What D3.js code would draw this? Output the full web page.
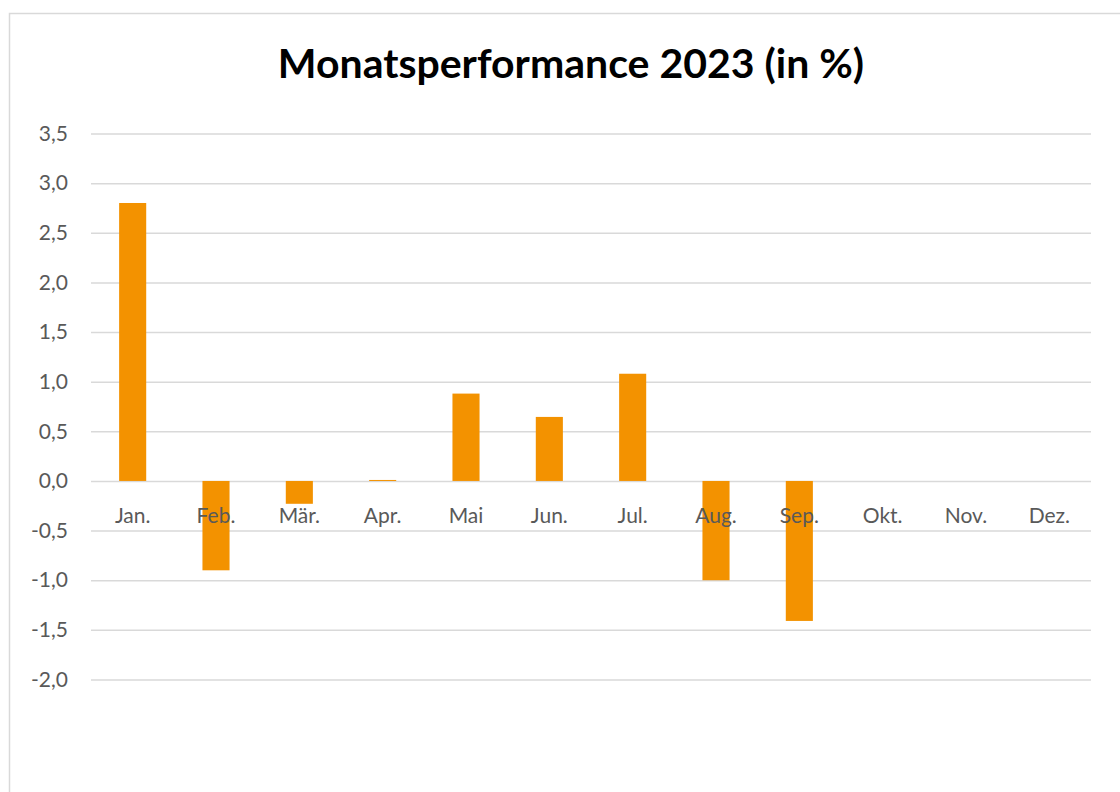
<!DOCTYPE html>
<html lang="de">
<head>
    <meta charset="UTF-8">
    <title>Monatsperformance 2023</title>
    <script src="https://d3js.org/d3.v7.min.js"></script>
    <style>
        body { margin: 0; background: #fff; }
        text { font-family: Lato, "Open Sans", sans-serif; }
    </style>
</head>
<body>
    <svg width="1120" height="792"></svg>
    <script>
        var months = ['Jan.', 'Feb.', 'Mär.', 'Apr.', 'Mai', 'Jun.', 'Jul.', 'Aug.', 'Sep.', 'Okt.', 'Nov.', 'Dez.'];
        var perf = [2.80, -0.90, -0.23, 0.01, 0.88, 0.645, 1.08, -1.0, -1.41, null, null, null];
        var yTicks = [3.5, 3.0, 2.5, 2.0, 1.5, 1.0, 0.5, 0.0, -0.5, -1.0, -1.5, -2.0];

        var fmt = d => d3.format('.1f')(d).replace('.', ',').replace('\u2212', '-');

        var svg = d3.select('svg');

        // chart frame
        svg.append('rect')
            .attr('x', 9.5).attr('y', 13.5)
            .attr('width', 1130).attr('height', 800)
            .attr('fill', '#fff')
            .attr('stroke', '#d9d9d9')
            .attr('stroke-width', 1.5);

        svg.append('text')
            .attr('x', 571).attr('y', 78)
            .attr('text-anchor', 'middle')
            .style('font-size', '41px')
            .style('font-weight', 'bold')
            .attr('fill', '#000')
            .text('Monatsperformance 2023 (in %)');

        var x = d3.scaleBand().domain(months).range([91, 1091]).paddingInner(0.675).paddingOuter(0.3375);
        var y = d3.scaleLinear().domain([-2, 3.5]).range([679.5, 133.5]);

        // gridlines
        var gy = svg.append('g').attr('transform', 'translate(1091,0)');
        gy.call(d3.axisRight(y).tickValues(yTicks).tickSize(-1000).tickFormat(''));
        gy.select('.domain').remove();
        gy.selectAll('line').attr('stroke', '#d9d9d9').attr('stroke-width', 1.5);

        // y labels
        var gl = svg.append('g').attr('transform', 'translate(91,0)');
        gl.call(d3.axisLeft(y).tickValues(yTicks).tickSize(0).tickPadding(23).tickFormat(fmt));
        gl.select('.domain').remove();
        gl.selectAll('text')
            .attr('fill', '#595959')
            .style('font-size', '21px')
            .style('font-family', 'Lato, sans-serif');

        // bars
        svg.append('g').selectAll('rect')
            .data(perf.map((v, i) => ({m: months[i], v: v})).filter(d => d.v !== null))
            .enter().append('rect')
            .attr('x', d => x(d.m))
            .attr('width', x.bandwidth())
            .attr('y', d => y(Math.max(0, d.v)))
            .attr('height', d => Math.max(1, Math.abs(y(d.v) - y(0))))
            .attr('fill', '#f39200');

        // category labels
        svg.append('g').selectAll('text')
            .data(months)
            .enter().append('text')
            .attr('x', d => x(d) + x.bandwidth() / 2)
            .attr('y', 523)
            .attr('text-anchor', 'middle')
            .attr('fill', '#595959')
            .style('font-size', '21px')
            .text(d => d);
    </script>
</body>
</html>
